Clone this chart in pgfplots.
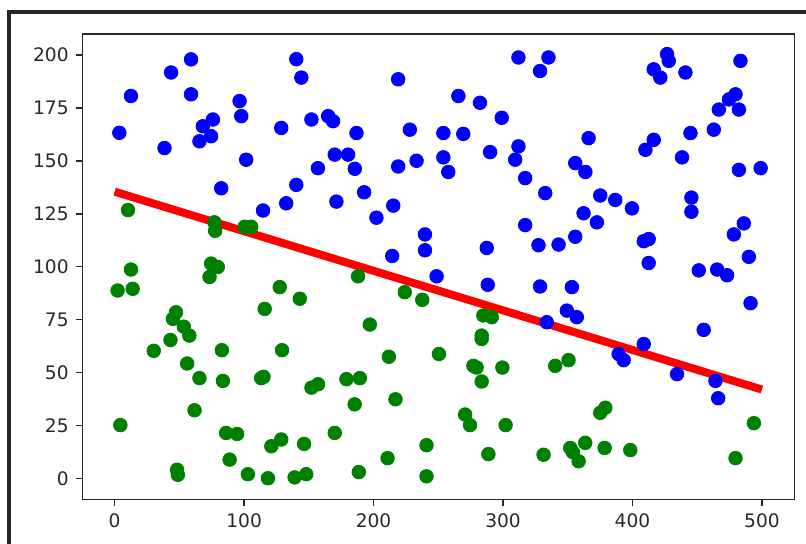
\documentclass[border=0pt]{standalone}
\usepackage{fontspec}
\setmainfont{DejaVu Sans}
\usepackage{pgfplots}
\pgfplotsset{compat=1.18}

\definecolor{mplblue}{RGB}{0,0,255}
\definecolor{mplgreen}{RGB}{0,128,0}
\definecolor{mplred}{RGB}{255,0,0}
\definecolor{axgray}{RGB}{40,40,40}

\begin{document}
\begin{tikzpicture}[x=0.5pt,y=0.5pt]
% page = 806 x 544 px at 0.5pt per px
\path[use as bounding box] (0,0) rectangle (806,544);
% screenshot frame on top and left
\draw[line width=1.6pt, black!85] (9,0) -- (9,532) -- (806,532);

\begin{axis}[
  at={(82.3pt*0.5,44.4pt*0.5)}, anchor=south west,
  scale only axis,
  width=356pt, height=232.8pt,
  xmin=-25, xmax=525, ymin=-10, ymax=210,
  xtick={0,100,...,500},
  ytick={0,25,...,200},
  tick align=outside,
  major tick length=3.3pt,
  axis line style={axgray, line width=0.7pt},
  tick style={axgray, line width=0.7pt},
  tick label style={font=\fontsize{9.3}{11}\selectfont, text=axgray},
  /pgf/number format/assume math mode=true,
  xtick pos=bottom, ytick pos=left,
  clip=false,
]
\addplot[only marks, mark=*, mark size=3.4pt, mplblue, mark options={draw=mplblue, fill=mplblue}] coordinates {
(3.6,163.3)(12.6,180.7)(38.5,156.1)(43.6,191.8)(59,198)(59,181.5)(65.5,159.3)
(68.1,166.4)(74.5,161.7)(75.9,169.6)(82.3,137.1)(96.5,178.3)(97.8,171.2)
(101.6,150.6)(114.6,126.6)(128.7,165.6)(132.5,130)(140.3,198.1)(144.2,189.4)
(140.3,138.7)(152,169.6)(157,146.6)(164.9,171.2)(168.7,168.8)(170,153)
(180.3,153)(171.3,130.8)(185.5,146.3)(186.8,163.2)(192.7,135.2)(202.2,123.2)
(214.4,105.1)(215.2,128.9)(219,188.6)(219,147.4)(228,164.8)(233.2,150.1)
(239.7,115.3)(239.7,107.8)(248.7,95.5)(253.9,163.2)(253.9,151.7)(257.7,144.8)
(265.5,180.7)(269.3,162.8)(282.2,177.5)(287.4,108.9)(288.2,91.5)(290,154.2)
(299,170.4)(309.4,150.6)(311.9,156.9)(311.9,198.9)(317.1,141.9)(317.1,119.7)
(327.4,110.2)(328.6,192.5)(328.6,90.7)(335.1,198.9)(332.6,134.8)(333.8,73.8)
(342.9,110.5)(349.3,79.3)(353.2,90.4)(355.8,149)(355.8,114.2)(357,76.2)
(362.2,125.3)(363.6,144.8)(366.1,160.8)(372.5,121)(375.1,133.7)(386.7,131.6)
(389.3,58.8)(393.2,55.9)(399.6,127.6)(408.7,112.1)(412.5,113.1)(412.5,101.8)
(410,155.3)(416.4,160)(408.7,63.5)(416.4,193.3)(421.5,189.4)(426.7,200.5)
(428,197.3)(434.4,49.3)(438.3,151.7)(440.9,191.8)(444.8,163.2)(445.5,132.7)
(445.5,126)(451.2,98.3)(455,70.2)(462.8,164.8)(464.1,46.1)(466.2,37.9)
(465.4,98.7)(466.7,174.3)(473.1,96)(474.5,179.1)(478.3,115.3)(479.6,181.5)
(482.2,174.3)(483.4,197.3)(482.2,145.8)(486,120.5)(489.9,104.7)(491.2,82.8)
(499,146.6)
};
\addplot[only marks, mark=*, mark size=3.4pt, mplgreen, mark options={draw=mplgreen, fill=mplgreen}] coordinates {
(10.3,126.8)(77.1,121)(77.6,117)(100.4,118.9)(105.5,118.9)(74.5,101.5)
(79.7,99.9)(73.3,95.2)(12.6,98.7)(2.3,88.8)(13.9,89.6)(127.5,90.4)(143,84.9)
(115.9,80.1)(47.4,78.5)(45,75.4)(53.4,71.7)(57.7,67.5)(43.1,65.4)(30.2,60.3)
(82.8,60.6)(129.3,60.6)(56,54.3)(65.5,47.4)(83.6,46.1)(113.2,47.4)(115,48)
(152,42.9)(157.1,44.5)(61.7,32.2)(4.4,25.2)(86.1,21.5)(94.6,21)(121,15.2)
(128.7,18.4)(146.3,16.3)(88.8,8.9)(48.2,4.1)(48.8,1.7)(102.9,2)(118.4,0.1)
(139,0.5)(148,2)(188,95.5)(224.1,88)(237.6,84.4)(284.8,77)(291.3,76.2)
(283.5,67.5)(283.5,65.9)(197.1,72.7)(211.8,57.5)(250.5,58.8)(277.1,53.2)
(279.6,52.4)(299.5,52.4)(283.5,45.8)(179,46.9)(189.4,47.4)(185.4,35)
(216.9,37.4)(270.7,30.2)(274.5,25.2)(302,25.2)(170,21.5)(240.9,15.7)
(210.8,9.6)(288.7,11.5)(188.6,3)(240.9,1)(340.3,53.2)(350.6,55.9)(375.1,31)
(379,33.4)(331.3,11.2)(351.9,14.4)(363.5,16.8)(358.4,8.1)(354,12.4)
(378.5,14.4)(398.3,13.4)(493.8,26.1)(479.6,9.6)
};
\addplot[mplred, line width=4pt, no marks] coordinates {(0,135.5)(500,42)};
\end{axis}
\end{tikzpicture}
\end{document}
